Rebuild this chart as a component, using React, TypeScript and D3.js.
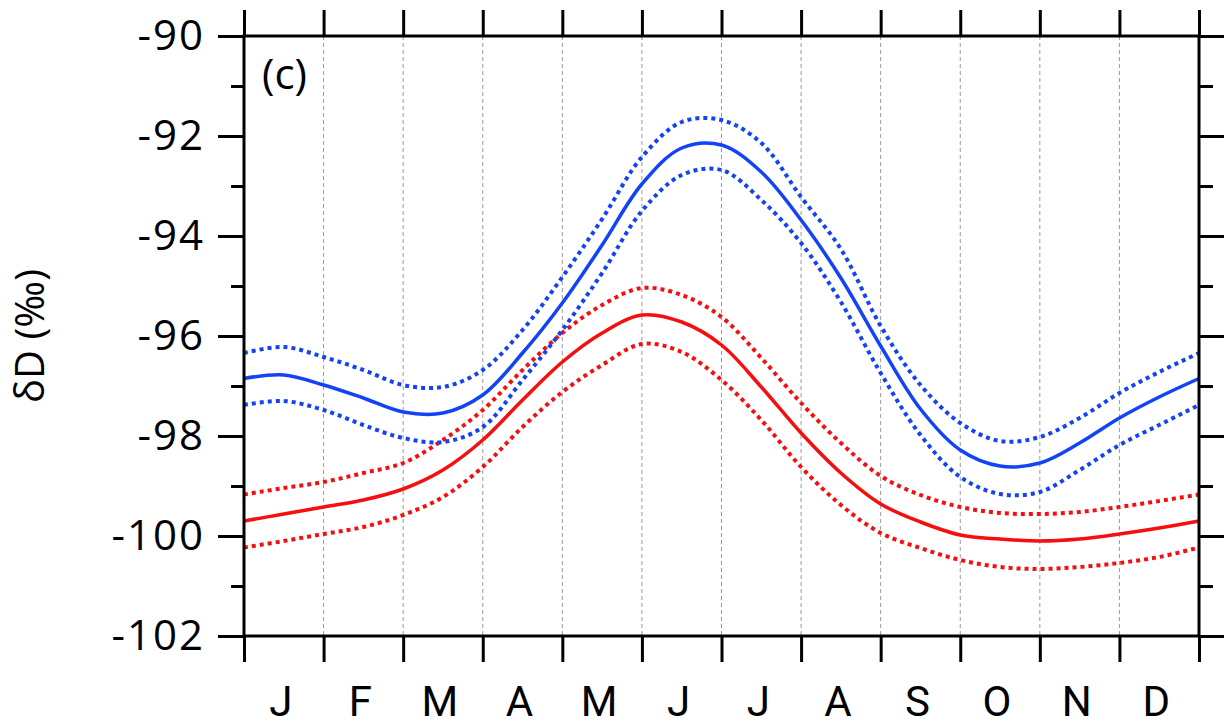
import React, { useEffect, useRef } from 'react';
import * as d3 from 'd3';

// time axis in months (0 = 1 Jan, 12 = 31 Dec), sampled every half month
const months = [0, 0.5, 1, 1.5, 2, 2.5, 3, 3.5, 4, 4.5, 5, 5.5, 6, 6.5, 7, 7.5, 8, 8.5, 9, 9.5, 10, 10.5, 11, 11.5, 12];

const blueMean = [-96.85, -96.78, -96.98, -97.24, -97.52, -97.54, -97.18, -96.34, -95.34, -94.18, -92.96, -92.24, -92.18, -92.72, -93.68, -94.84, -96.2, -97.46, -98.28, -98.6, -98.54, -98.14, -97.64, -97.22, -96.85];
const blueUpper = [-96.34, -96.22, -96.42, -96.68, -96.98, -97.02, -96.68, -95.88, -94.82, -93.66, -92.42, -91.72, -91.68, -92.14, -93.22, -94.26, -95.8, -96.98, -97.74, -98.1, -98.02, -97.64, -97.14, -96.72, -96.34];
const blueLower = [-97.38, -97.3, -97.48, -97.78, -98.04, -98.12, -97.82, -96.88, -95.88, -94.74, -93.5, -92.78, -92.68, -93.28, -94.14, -95.32, -96.74, -97.98, -98.82, -99.16, -99.12, -98.68, -98.18, -97.78, -97.38];

const redMean = [-99.7, -99.56, -99.42, -99.28, -99.06, -98.68, -98.08, -97.28, -96.52, -95.94, -95.58, -95.72, -96.18, -97.02, -97.94, -98.74, -99.36, -99.72, -99.98, -100.06, -100.1, -100.06, -99.96, -99.84, -99.7];
const redUpper = [-99.17, -99.04, -98.92, -98.74, -98.54, -98.08, -97.48, -96.68, -95.94, -95.38, -95.04, -95.18, -95.62, -96.44, -97.34, -98.14, -98.8, -99.18, -99.42, -99.54, -99.56, -99.52, -99.42, -99.3, -99.17];
const redLower = [-100.23, -100.1, -99.96, -99.82, -99.58, -99.22, -98.62, -97.82, -97.12, -96.58, -96.16, -96.32, -96.88, -97.68, -98.62, -99.38, -99.94, -100.24, -100.48, -100.62, -100.66, -100.62, -100.54, -100.42, -100.23];

const monthLabels = ['J', 'F', 'M', 'A', 'M', 'J', 'J', 'A', 'S', 'O', 'N', 'D'];
const yMajor = [-102, -100, -98, -96, -94, -92, -90];
const yMinor = [-101, -99, -97, -95, -93, -91];

const BLUE = '#1244f5';
const RED = '#f50f0f';
const FONT = '"Open Sans", sans-serif';

function Chart() {
  const svgRef = useRef(null);

  useEffect(() => {
    const svg = d3.select(svgRef.current);
    svg.selectAll('*').remove();

    const left = 244, right = 1199, top = 36, bottom = 636;

    const x = d3.scaleLinear().domain([0, 12]).range([left, right]);
    const y = d3.scaleLinear().domain([-102, -90]).range([bottom, top]);

    // dashed month grid
    svg.append('g')
      .selectAll('line')
      .data(d3.range(1, 12))
      .enter()
      .append('line')
      .attr('x1', d => x(d)).attr('x2', d => x(d))
      .attr('y1', top).attr('y2', bottom)
      .attr('stroke', '#9a9a9a')
      .attr('stroke-width', 1)
      .attr('stroke-dasharray', '4,3');

    const line = d3.line()
      .x((d, i) => x(months[i]))
      .y(d => y(d))
      .curve(d3.curveCatmullRom.alpha(0.5));

    const series = [
      { values: redUpper, color: RED, dotted: true },
      { values: redLower, color: RED, dotted: true },
      { values: redMean, color: RED, dotted: false },
      { values: blueUpper, color: BLUE, dotted: true },
      { values: blueLower, color: BLUE, dotted: true },
      { values: blueMean, color: BLUE, dotted: false },
    ];

    svg.append('g')
      .selectAll('path')
      .data(series)
      .enter()
      .append('path')
      .attr('d', d => line(d.values))
      .attr('fill', 'none')
      .attr('stroke', d => d.color)
      .attr('stroke-width', d => (d.dotted ? 4 : 3.5))
      .attr('stroke-dasharray', d => (d.dotted ? '4,4' : null));

    const styleAxis = g => {
      g.select('.domain').remove();
      g.selectAll('.tick line').attr('stroke', '#000').attr('stroke-width', 3);
      g.selectAll('.tick text')
        .attr('fill', '#000')
        .style('font-family', FONT)
        .style('font-size', '42px')
        .style('letter-spacing', '2px');
    };

    // left axis
    svg.append('g')
      .attr('transform', `translate(${left},0)`)
      .call(d3.axisLeft(y).tickValues(yMajor).tickSize(26).tickPadding(13).tickFormat(d => String(d)))
      .call(styleAxis);
    svg.append('g')
      .attr('transform', `translate(${left},0)`)
      .call(d3.axisLeft(y).tickValues(yMinor).tickSize(13).tickFormat(() => ''))
      .call(styleAxis);

    // right axis
    svg.append('g')
      .attr('transform', `translate(${right},0)`)
      .call(d3.axisRight(y).tickValues(yMajor).tickSize(26).tickFormat(() => ''))
      .call(styleAxis);
    svg.append('g')
      .attr('transform', `translate(${right},0)`)
      .call(d3.axisRight(y).tickValues(yMinor).tickSize(14).tickFormat(() => ''))
      .call(styleAxis);

    // top and bottom month ticks
    svg.append('g')
      .attr('transform', `translate(0,${top})`)
      .call(d3.axisTop(x).tickValues(d3.range(0, 13)).tickSize(26).tickFormat(() => ''))
      .call(styleAxis);
    svg.append('g')
      .attr('transform', `translate(0,${bottom})`)
      .call(d3.axisBottom(x).tickValues(d3.range(0, 13)).tickSize(26).tickFormat(() => ''))
      .call(styleAxis);

    // month labels
    svg.append('g')
      .selectAll('text')
      .data(monthLabels)
      .enter()
      .append('text')
      .attr('x', (d, i) => x(i + 0.5) - 3)
      .attr('y', 716)
      .attr('text-anchor', 'middle')
      .style('font-family', 'Roboto, sans-serif')
      .style('font-size', '42px')
      .text(d => d);

    // frame
    svg.append('rect')
      .attr('x', left).attr('y', top)
      .attr('width', right - left).attr('height', bottom - top)
      .attr('fill', 'none')
      .attr('stroke', '#000')
      .attr('stroke-width', 3);

    svg.append('text')
      .attr('x', 262).attr('y', 89)
      .style('font-family', FONT)
      .style('font-size', '42px')
      .text('(c)');

    svg.append('text')
      .attr('transform', 'translate(44,336) rotate(-90)')
      .attr('text-anchor', 'middle')
      .style('font-family', FONT)
      .style('font-size', '40px')
      .text('δD (‰)');
  }, []);

  return (
    <svg
      ref={svgRef}
      width={1224}
      height={727}
      style={{ position: 'absolute', left: 0, top: 0, display: 'block', background: '#fff' }}
    />
  );
}

export default function App() {
  return <Chart />;
}
